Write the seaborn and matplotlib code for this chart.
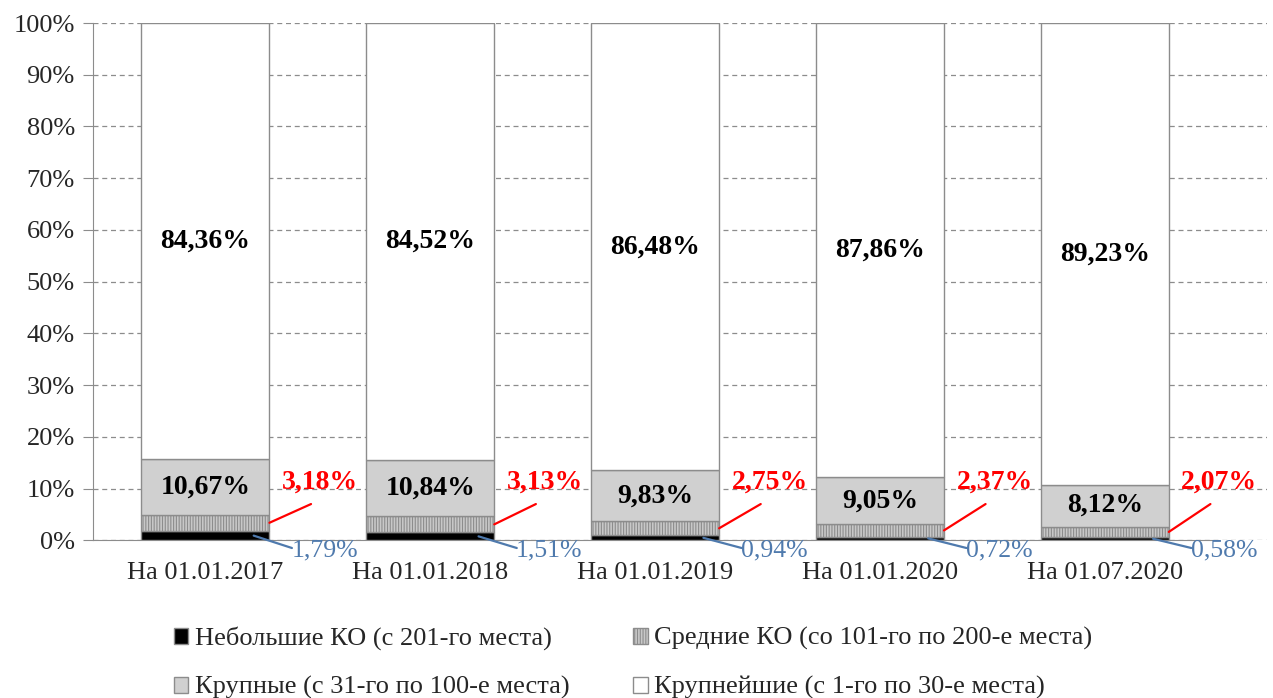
import numpy as np
import pandas as pd
import matplotlib
matplotlib.use("Agg")
import matplotlib.pyplot as plt
import seaborn as sns
from matplotlib.patches import Patch

categories = ["На 01.01.2017", "На 01.01.2018", "На 01.01.2019", "На 01.01.2020", "На 01.07.2020"]
small = [1.79, 1.51, 0.94, 0.72, 0.58]      # с 201-го места
medium = [3.18, 3.13, 2.75, 2.37, 2.07]     # со 101-го по 200-е
large = [10.67, 10.84, 9.83, 9.05, 8.12]    # с 31-го по 100-е
largest = [84.36, 84.52, 86.48, 87.86, 89.23]  # с 1-го по 30-е

labels = ["Небольшие КО (с 201-го места)",
          "Средние КО (со 101-го по 200-е места)",
          "Крупные (с 31-го по 100-е места)",
          "Крупнейшие (с 1-го по 30-е места)"]

sns.set_style("white")
plt.rcParams["font.family"] = ["Liberation Serif", "DejaVu Serif"]
plt.rcParams["hatch.color"] = "#6e6e6e"
plt.rcParams["hatch.linewidth"] = 0.8


def pct(v):
    return f"{v:.2f}%".replace(".", ",")


df = pd.DataFrame({"cat": categories, "small": small, "medium": medium,
                   "large": large, "largest": largest})

fig = plt.figure(figsize=(12.73, 6.98), dpi=100)
ax = fig.add_axes([0.073, 0.226, 0.922, 0.741])

w = 0.57
layers = [("small", "#000000", None), ("medium", "#c8c8c8", "||||||"),
          ("large", "#d0d0d0", None), ("largest", "#ffffff", None)]
bottom = np.zeros(len(categories))
for col, color, hatch in layers:
    sns.barplot(data=df, x="cat", y=col, bottom=bottom, color=color,
                edgecolor="#8c8c8c", linewidth=1.0, width=w, hatch=hatch,
                saturation=1, ax=ax, zorder=3)
    bottom = bottom + df[col].values

ax.set_xlim(-0.5, 4.72)
ax.set_ylim(0, 100)
ax.set_yticks(np.arange(0, 101, 10))
ax.set_yticklabels([f"{v}%" for v in range(0, 101, 10)], fontsize=19)
ax.set_xlabel("")
ax.set_ylabel("")
ax.tick_params(axis="x", labelsize=19, length=0, pad=16)
ax.tick_params(axis="y", length=7, color="#8c8c8c", direction="out", pad=6, left=True)
ax.yaxis.grid(True, linestyle=(0, (4, 3)), color="#8c8c8c", linewidth=0.9, zorder=0)
for s in ["top", "right"]:
    ax.spines[s].set_visible(False)
ax.spines["left"].set_color("#8c8c8c")
ax.spines["bottom"].set_color("#8c8c8c")
ax.spines["bottom"].set_bounds(-0.5, 4.5)

for i in range(len(categories)):
    base_l = small[i] + medium[i]
    base_xl = base_l + large[i]
    ax.text(i, (base_xl + 100) / 2, pct(largest[i]), ha="center", va="center",
            fontsize=20, fontweight="bold", color="black", zorder=5)
    ax.text(i, base_l + large[i] / 2, pct(large[i]), ha="center", va="center",
            fontsize=20, fontweight="bold", color="black", zorder=5)
    # medium - red label with leader line
    ax.annotate("", xy=(i + w / 2, small[i] + medium[i] / 2), xytext=(i + 0.47, 7.0),
                arrowprops=dict(arrowstyle="-", color="#ff0000", lw=1.6,
                                shrinkA=0, shrinkB=0), annotation_clip=False, zorder=5)
    ax.text(i + 0.51, 11.2, pct(medium[i]), ha="center", va="center",
            color="#ff0000", fontsize=20, fontweight="bold", zorder=5)
    # small - blue label with leader line
    ax.annotate("", xy=(i + 0.215, small[i] / 2), xytext=(i + 0.385, -1.5),
                arrowprops=dict(arrowstyle="-", color="#4f7aad", lw=1.6,
                                shrinkA=0, shrinkB=0), annotation_clip=False, zorder=5)
    ax.text(i + 0.53, -1.9, pct(small[i]), ha="center", va="center",
            color="#4f7aad", fontsize=18.5, zorder=5)

handles = [Patch(facecolor="#000000", edgecolor="#8c8c8c"),
           Patch(facecolor="#d0d0d0", edgecolor="#8c8c8c"),
           Patch(facecolor="#c8c8c8", edgecolor="#8c8c8c", hatch="||||||"),
           Patch(facecolor="#ffffff", edgecolor="#8c8c8c")]
leg_labels = [labels[0], labels[2], labels[1], labels[3]]
fig.legend(handles, leg_labels, loc="lower left", bbox_to_anchor=(0.118, -0.036),
           ncol=2, frameon=False, fontsize=19, handlelength=0.55, handleheight=0.55,
           handletextpad=0.25, columnspacing=2.4, labelspacing=0.98)

fig.savefig("out.png", dpi=100)
